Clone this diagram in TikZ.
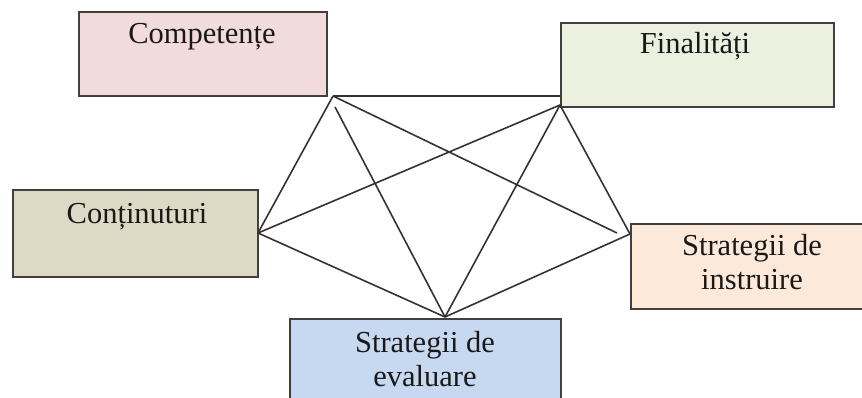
\documentclass[tikz,border=0pt]{standalone}
\usepackage{fontspec}
\setmainfont{Liberation Serif}
\begin{document}
\begin{tikzpicture}[x=1pt,y=-1pt,
  box/.style={draw=black!75, line width=1.6pt, inner sep=0pt, anchor=north west},
  lbl/.style={font=\fontsize{30.5}{34}\selectfont, align=center, inner sep=0pt, anchor=base, text=black!90},
  link/.style={draw=black!80, line width=1.6pt}]
\useasboundingbox (0,0) rectangle (862,398);
\clip (0,0) rectangle (862,398);
\definecolor{cpink}{HTML}{F2DCDB}
\definecolor{cgreen}{HTML}{EBF1DE}
\definecolor{ctan}{HTML}{DDD9C4}
\definecolor{cpeach}{HTML}{FDE9D9}
\definecolor{cblue}{HTML}{C6D9F1}
% boxes
\node[box, fill=cpink, minimum width=248pt, minimum height=84pt] (comp) at (78,11) {};
\node[box, fill=cgreen, minimum width=273pt, minimum height=84pt] (fin) at (560,22) {};
\node[box, fill=ctan, minimum width=245pt, minimum height=87pt] (cont) at (12,189) {};
\node[box, fill=cpeach, minimum width=250pt, minimum height=85pt] (instr) at (630,223) {};
\node[box, fill=cblue, minimum width=271pt, minimum height=100pt] (eval) at (289,318) {};
% labels
\node[lbl] (tcomp) at (202,44) {Competențe};
\node[lbl] (tfin) at (695,54) {Finalități};
\node[lbl] (tcont) at (137,223) {Conținuturi};
\node[lbl] (tinstr) at (752,289) {Strategii de\\instruire};
\node[lbl] (teval) at (425,386) {Strategii de\\evaluare};
% connector points
\coordinate (A) at (333,96);
\coordinate (A2) at (335,107);
\coordinate (B) at (560,96);
\coordinate (B2) at (560,105);
\coordinate (E) at (258,233);
\coordinate (D) at (445,317);
\coordinate (C) at (630,234);
\coordinate (C2) at (617,233);
% connectors
\draw[link] (A) -- (B);
\draw[link] (A) -- (E);
\draw[link] (A) -- (C2);
\draw[link] (A2) -- (D);
\draw[link] (B2) -- (E);
\draw[link] (B2) -- (D);
\draw[link] (B2) -- (C);
\draw[link] (E) -- (D);
\draw[link] (D) -- (C);
\end{tikzpicture}
\end{document}
